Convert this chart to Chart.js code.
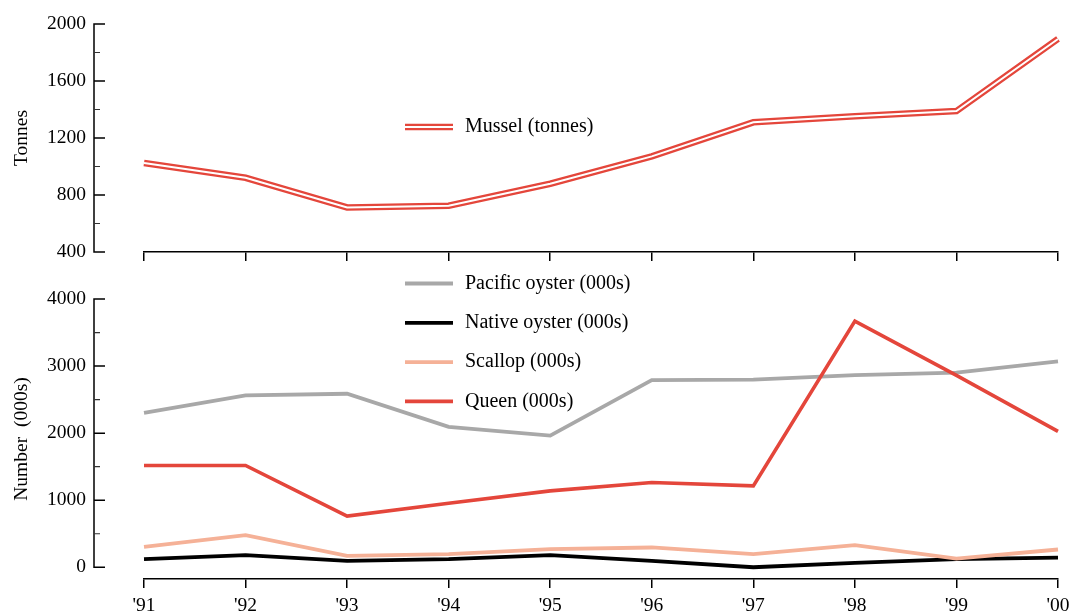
<!DOCTYPE html>
<html>
<head>
<meta charset="utf-8">
<script src="https://cdn.jsdelivr.net/npm/chart.js@4/dist/chart.umd.min.js"></script>
<style>
  html, body { margin: 0; padding: 0; background: #ffffff; overflow: hidden; }
  #wrap { position: relative; width: 1071px; height: 614px; }
  #wrap canvas { position: absolute; left: 0; top: 0; }
</style>
</head>
<body>
<div id="wrap">
  <canvas id="topChart" width="1071" height="614"></canvas>
  <canvas id="bottomChart" width="1071" height="614"></canvas>
</div>
<script>
// ---------- data ----------
const categories = ["'91", "'92", "'93", "'94", "'95", "'96", "'97", "'98", "'99", "'00"];
const musselTonnes  = [1025, 921, 713, 725, 879, 1071, 1310, 1352, 1389, 1895];
const pacificOyster = [2303, 2562, 2587, 2093, 1963, 2791, 2797, 2866, 2902, 3071];
const nativeOyster  = [120, 180, 95, 120, 180, 95, 0, 65, 120, 145];
const scallop       = [305, 480, 170, 195, 270, 295, 195, 330, 130, 265];
const queen         = [1518, 1518, 764, 954, 1139, 1263, 1213, 3670, 2861, 2027];
const topMajorTicks    = [400, 800, 1200, 1600, 2000];
const topMinorTicks    = [600, 1000, 1400, 1800];
const bottomMajorTicks = [0, 1000, 2000, 3000, 4000];
const bottomMinorTicks = [500, 1500, 2500, 3500];

// ---------- style ----------
const FONT_FAMILY = "'Liberation Serif', 'Times New Roman', serif";
const RED = '#e4463b';
const GRAY = '#a8a8a8';
const SALMON = '#f5b197';
const BLACK = '#000000';
Chart.defaults.font.family = FONT_FAMILY;
Chart.defaults.font.size = 19.5;
Chart.defaults.color = '#000';

// y axis drawn detached from the plot area (line + inward ticks), using the scale's pixels
const detachedYAxis = {
  id: 'detachedYAxis',
  afterDraw(chart, args, o) {
    const s = chart.scales.y, ctx = chart.ctx;
    const x0 = chart.chartArea.left - o.gap;
    const lo = s.getPixelForValue(o.major[0]);
    const hi = s.getPixelForValue(o.major[o.major.length - 1]);
    ctx.save();
    ctx.strokeStyle = '#000';
    ctx.lineWidth = 1.5;
    ctx.beginPath();
    ctx.moveTo(x0, hi - 0.75); ctx.lineTo(x0, lo + 0.75);
    o.major.forEach(v => { const p = s.getPixelForValue(v); ctx.moveTo(x0, p); ctx.lineTo(x0 + 11, p); });
    ctx.stroke();
    ctx.lineWidth = 1.2;
    ctx.strokeStyle = '#333';
    ctx.beginPath();
    o.minor.forEach(v => { const p = s.getPixelForValue(v); ctx.moveTo(x0, p); ctx.lineTo(x0 + 6, p); });
    ctx.stroke();
    ctx.restore();
  }
};

// legend placed inside the plot, built from dataset labels and styles
const inlineLegend = {
  id: 'inlineLegend',
  afterDraw(chart, args, o) {
    const ctx = chart.ctx;
    const dss = chart.data.datasets;
    let row = 0;
    ctx.save();
    dss.forEach(ds => {
      if (!ds.label) return;
      const y = o.y + row * o.rowGap;
      const strokes = [ds].concat(dss.filter(d => d.overlayOf === ds.label));
      strokes.forEach(d => {
        ctx.strokeStyle = d.borderColor;
        ctx.lineWidth = d.legendWidth || d.borderWidth;
        ctx.lineCap = 'butt';
        ctx.beginPath();
        ctx.moveTo(o.x, y); ctx.lineTo(o.x + o.swatch, y);
        ctx.stroke();
      });
      ctx.fillStyle = '#000';
      ctx.font = o.fontSize + 'px ' + FONT_FAMILY;
      ctx.textAlign = 'left';
      ctx.textBaseline = 'middle';
      ctx.fillText(ds.label, o.x + o.swatch + o.textGap, y);
      row++;
    });
    ctx.restore();
  }
};

function fixBox(w, h) {
  return s => {
    if (w !== null) s.width = w;
    if (h !== null) s.height = h;
    s.paddingLeft = 0; s.paddingRight = 0; s.paddingTop = 0; s.paddingBottom = 0;
  };
}

function xScale(showLabels, height) {
  return {
    type: 'category',
    labels: categories,
    offset: false,
    grid: { drawOnChartArea: false, drawTicks: true, tickLength: 9, color: '#000', lineWidth: 1.5 },
    border: { display: true, color: '#000', width: 1.5 },
    ticks: { display: showLabels, padding: 6, maxRotation: 0, autoSkip: false, color: '#000' },
    afterFit: fixBox(null, height)
  };
}

function yScale(min, max, ticks, title, titlePad) {
  return {
    type: 'linear',
    min: min, max: max,
    afterBuildTicks: s => { s.ticks = ticks.map(v => ({ value: v })); },
    grid: { display: false, drawTicks: false },
    border: { display: false },
    ticks: { padding: 58, color: '#000', callback: v => String(v) },
    title: { display: true, text: title, color: '#000', padding: { top: titlePad, bottom: 0 } },
    afterFit: fixBox(144, null)
  };
}

const common = {
  responsive: false,
  devicePixelRatio: 1,
  animation: false,
  events: [],
  elements: { point: { radius: 0 }, line: { tension: 0, borderJoinStyle: 'miter', borderCapStyle: 'butt' } },
};

// ---------- top panel: mussel ----------
new Chart(document.getElementById('topChart'), {
  type: 'line',
  data: {
    labels: categories,
    datasets: [
      { label: 'Mussel (tonnes)', data: musselTonnes, borderColor: RED, borderWidth: 6.5, legendWidth: 6.5, fill: false, order: 1 },
      { label: '', overlayOf: 'Mussel (tonnes)', data: musselTonnes, borderColor: '#ffffff', borderWidth: 2, legendWidth: 2, fill: false, order: 0 }
    ]
  },
  options: Object.assign({}, common, {
    layout: { padding: { top: 24, right: 13, bottom: 614 - 252 - 10, left: 0 } },
    scales: { x: xScale(false, 10), y: yScale(400, 2000, topMajorTicks, 'Tonnes', 10) },
    plugins: {
      legend: { display: false }, tooltip: { enabled: false },
      detachedYAxis: { gap: 50, major: topMajorTicks, minor: topMinorTicks },
      inlineLegend: { x: 405, y: 127, rowGap: 39.3, swatch: 48, textGap: 12, fontSize: 20 }
    }
  }),
  plugins: [detachedYAxis, inlineLegend]
});

// ---------- bottom panel: numbers ----------
new Chart(document.getElementById('bottomChart'), {
  type: 'line',
  data: {
    labels: categories,
    datasets: [
      { label: 'Pacific oyster (000s)', data: pacificOyster, borderColor: GRAY, borderWidth: 3.8, fill: false, order: 4 },
      { label: 'Native oyster (000s)', data: nativeOyster, borderColor: BLACK, borderWidth: 3.8, fill: false, order: 3 },
      { label: 'Scallop (000s)', data: scallop, borderColor: SALMON, borderWidth: 3.8, fill: false, order: 2 },
      { label: 'Queen (000s)', data: queen, borderColor: RED, borderWidth: 3.6, fill: false, order: 1 }
    ]
  },
  options: Object.assign({}, common, {
    layout: { padding: { top: 299, right: 13, bottom: 0, left: 0 } },
    scales: { x: xScale(true, 614 - 579), y: yScale(-175, 4000, bottomMajorTicks, 'Number  (000s)', 10) },
    plugins: {
      legend: { display: false }, tooltip: { enabled: false },
      detachedYAxis: { gap: 50, major: bottomMajorTicks, minor: bottomMinorTicks },
      inlineLegend: { x: 405, y: 283.5, rowGap: 39.3, swatch: 48, textGap: 12, fontSize: 20 }
    }
  }),
  plugins: [detachedYAxis, inlineLegend]
});
</script>
</body>
</html>
